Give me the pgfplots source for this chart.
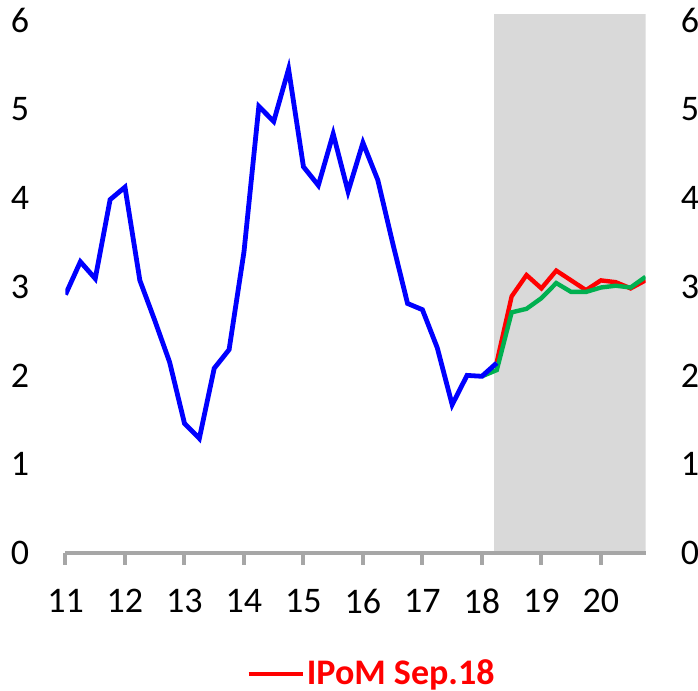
\documentclass[border=0pt]{standalone}
\usepackage{pgfplots}
\pgfplotsset{compat=1.18}
\usepackage{fontspec}
\setmainfont{Carlito}

\definecolor{shade}{HTML}{D9D9D9}
\definecolor{axgray}{HTML}{A6A6A6}
\definecolor{grn}{HTML}{00B050}

\pgfplotsset{
  base/.style={
    scale only axis,
    width=290pt, height=269.5pt,
    xmin=11, xmax=20.75,
    ymin=0, ymax=6.07,
    ytick={0,1,...,6},
    /pgf/number format/assume math mode=true,
    ticklabel style={font=\fontsize{18}{18}\selectfont},
  }
}

\begin{document}
\begin{tikzpicture}
\begin{axis}[
    base,
    axis on top,
    axis x line*=bottom,
    axis y line*=left,
    y axis line style={draw=none},
    ytick style={draw=none},
    x axis line style={axgray, line width=2pt, -},
    xtick={11,12,...,20},
    tick align=outside,
    xtick style={axgray, line width=2pt},
    major tick length=6pt,
    xticklabel style={anchor=north, inner sep=0pt, yshift=-12pt},
    yticklabel style={anchor=east, inner sep=0pt, xshift=-12pt},
    legend style={draw=none, fill=none, at={(0.5276,-0.2245)}, anchor=center,
      font=\fontsize{18}{18}\selectfont\bfseries\color{red},
      nodes={inner sep=1pt}},
    legend image code/.code={\draw[#1, line width=2.2pt] (0pt,0pt) -- (27pt,0pt);},
]
% projection period shading
\addplot[fill=shade, draw=none, forget plot] coordinates {
  (18.21,0) (18.21,6.07) (20.75,6.07) (20.75,0)} -- cycle;

% IPoM Sep.18
\addplot[red, line width=2.2pt] coordinates {
  (18.25,2.15) (18.50,2.89) (18.75,3.13) (19.00,2.98) (19.25,3.18)
  (19.50,3.07) (19.75,2.96) (20.00,3.07) (20.25,3.05) (20.50,2.98) (20.75,3.07)};
\addlegendentry{IPoM Sep.18}

% current projection
\addplot[grn, line width=2.2pt, forget plot] coordinates {
  (18.00,1.99) (18.25,2.06) (18.50,2.71) (18.75,2.75) (19.00,2.87) (19.25,3.04)
  (19.50,2.94) (19.75,2.94) (20.00,2.99) (20.25,3.01) (20.50,2.99) (20.75,3.11)};

% actual
\addplot[blue, line width=2.4pt, forget plot] coordinates {
  (11.00,2.91) (11.25,3.28) (11.50,3.09) (11.75,3.98) (12.00,4.12)
  (12.25,3.07) (12.50,2.62) (12.75,2.15) (13.00,1.46) (13.25,1.29)
  (13.50,2.08) (13.75,2.29) (14.00,3.39) (14.25,5.03) (14.50,4.86)
  (14.75,5.45) (15.00,4.35) (15.25,4.14) (15.50,4.72) (15.75,4.07)
  (16.00,4.62) (16.25,4.20) (16.50,3.49) (16.75,2.81) (17.00,2.74)
  (17.25,2.31) (17.50,1.67) (17.75,2.00) (18.00,1.99) (18.25,2.14)};

\coordinate (o) at (rel axis cs:0,0);
\end{axis}

% right-hand scale (same as left)
\begin{axis}[
    base,
    axis x line=none,
    axis y line*=right,
    y axis line style={draw=none},
    ytick style={draw=none},
    yticklabel style={anchor=west, inner sep=0pt, xshift=17.5pt},
]
\end{axis}

\pgfresetboundingbox
\useasboundingbox ([xshift=-32.75pt,yshift=-69pt]o) rectangle ([xshift=316.25pt,yshift=276.5pt]o);
\end{tikzpicture}
\end{document}
